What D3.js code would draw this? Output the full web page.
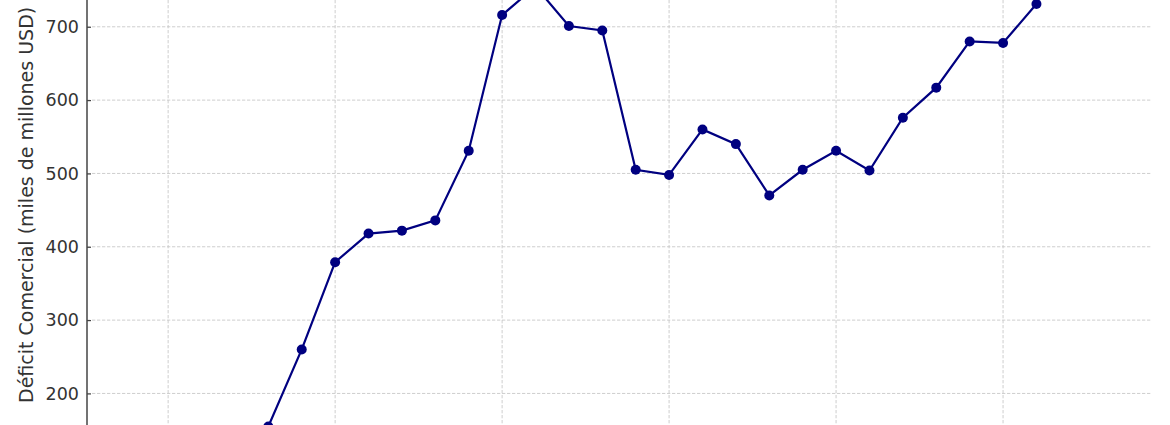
<!DOCTYPE html>
<html>
<head>
<meta charset="utf-8">
<script src="https://cdn.jsdelivr.net/npm/d3@7/dist/d3.min.js"></script>
<style>
  html, body { margin: 0; padding: 0; background: #fff; }
  svg { display: block; font-family: "DejaVu Sans", sans-serif; }
</style>
</head>
<body>
<svg id="chart" width="1170" height="425"></svg>
<script>
// Data (years and trade deficit, billions USD)
const years = [1994, 1995, 1996, 1997, 1998, 1999, 2000, 2001, 2002, 2003, 2004, 2005, 2006, 2007, 2008,
               2009, 2010, 2011, 2012, 2013, 2014, 2015, 2016, 2017, 2018, 2019, 2020, 2021, 2022, 2023];
const deficit = [98, 96, 104, 108, 155, 260, 379, 418, 422, 436, 531, 716, 755, 701, 695,
                 505, 498, 560, 540, 470, 505, 531, 504, 576, 617, 680, 678, 731, 945, 785];
const yTicks = [100, 200, 300, 400, 500, 600, 700, 800, 900];
const xTicks = [1990, 1995, 2000, 2005, 2010, 2015, 2020, 2025];
const yLabel = "Déficit Comercial (miles de millones USD)";

const W = 1170, H = 425;
const plotLeft = 87, plotRight = 1152;

const svg = d3.select("#chart");

const x = d3.scaleLinear()
  .domain([1992.57, 2024.46])
  .range([plotLeft, plotRight]);

// y: 700 -> 26.8px, 200 -> 393.3px
const y = d3.scaleLinear()
  .domain([0, 1000])
  .range([540.1, -193.2]);

const visY = yTicks.filter(v => y(v) >= -10 && y(v) <= H + 10);
const visX = xTicks.filter(v => x(v) > plotLeft + 1 && x(v) < plotRight - 1);

// gridlines
const grid = svg.append("g");
grid.selectAll("line.h").data(visY).join("line")
  .attr("class", "h")
  .attr("x1", plotLeft).attr("x2", plotRight)
  .attr("y1", d => y(d)).attr("y2", d => y(d))
  .attr("stroke", "#c8c8c8").attr("stroke-width", 0.9)
  .attr("stroke-dasharray", "3.3,1.7");
grid.selectAll("line.v").data(visX).join("line")
  .attr("class", "v")
  .attr("x1", d => x(d)).attr("x2", d => x(d))
  .attr("y1", -5).attr("y2", H + 5)
  .attr("stroke", "#c8c8c8").attr("stroke-width", 0.9)
  .attr("stroke-dasharray", "3.3,1.7");

// y axis
const yAxis = d3.axisLeft(y).tickValues(visY).tickSize(-4).tickPadding(8).tickFormat(d3.format("d"));
const gy = svg.append("g").attr("transform", `translate(${plotLeft},0)`).call(yAxis);
gy.select(".domain").remove();
gy.selectAll(".tick line").attr("stroke", "#444").attr("stroke-width", 1.2);
gy.selectAll(".tick text")
  .attr("fill", "#333")
  .style("font-size", "17.5px")
  .style("font-family", "DejaVu Sans, sans-serif");

// left spine
svg.append("line")
  .attr("x1", plotLeft).attr("x2", plotLeft)
  .attr("y1", -5).attr("y2", H + 5)
  .attr("stroke", "#444").attr("stroke-width", 1.5);

// y label
svg.append("text")
  .attr("transform", `translate(33,403) rotate(-90)`)
  .attr("text-anchor", "start")
  .attr("fill", "#333")
  .style("font-size", "19px")
  .text(yLabel);

// line
const pts = years.map((yr, i) => [yr, deficit[i]]);
svg.append("path")
  .datum(pts)
  .attr("fill", "none")
  .attr("stroke", "#000080")
  .attr("stroke-width", 2.2)
  .attr("d", d3.line().x(d => x(d[0])).y(d => y(d[1])));

svg.append("g").selectAll("circle").data(pts).join("circle")
  .attr("cx", d => x(d[0]))
  .attr("cy", d => y(d[1]))
  .attr("r", 5)
  .attr("fill", "#000080");
</script>
</body>
</html>
